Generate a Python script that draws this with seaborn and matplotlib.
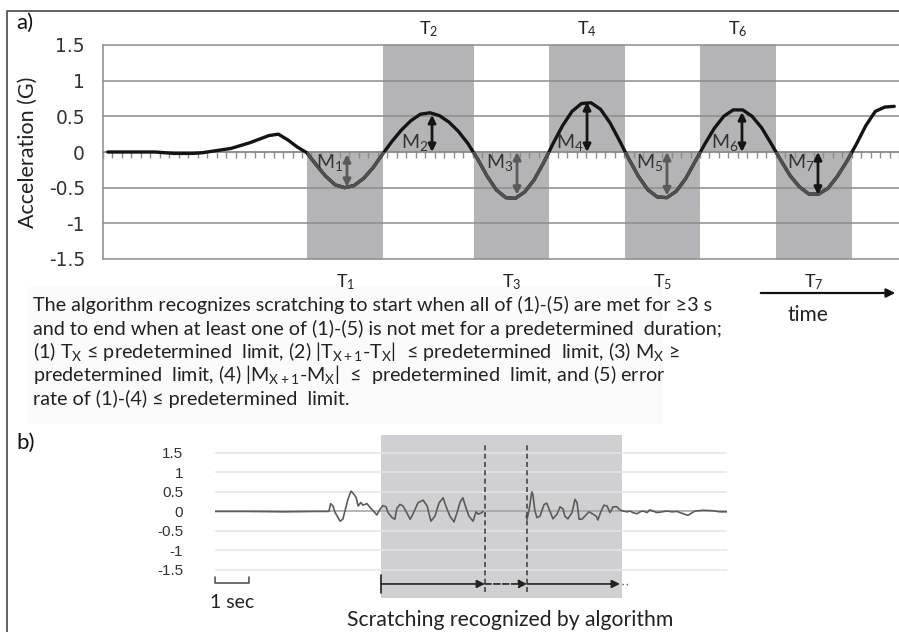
import numpy as np
import pandas as pd
import matplotlib
matplotlib.use("Agg")
import matplotlib.pyplot as plt
import seaborn as sns
from matplotlib.patches import Rectangle, FancyArrowPatch
from matplotlib.lines import Line2D
from matplotlib import font_manager

# ---------------- data: panel a ----------------
a_values = [0.00, 0.00, 0.00, 0.00, 0.00, 0.00, -0.01, -0.02, -0.02, -0.02,
            -0.01, 0.01, 0.03, 0.05, 0.09, 0.13, 0.18, 0.23, 0.25, 0.17,
            0.07, -0.01, -0.18, -0.34, -0.46, -0.50, -0.47, -0.37, -0.22, -0.03,
            0.15, 0.31, 0.44, 0.53, 0.55, 0.51, 0.42, 0.29, 0.12,
            -0.09, -0.33, -0.53, -0.64, -0.65, -0.56, -0.39, -0.15,
            0.12, 0.37, 0.57, 0.68, 0.69, 0.60, 0.41, 0.16,
            -0.10, -0.34, -0.53, -0.63, -0.64, -0.55, -0.37, -0.13,
            0.11, 0.33, 0.50, 0.59, 0.59, 0.50, 0.34, 0.12,
            -0.11, -0.33, -0.49, -0.59, -0.59, -0.51, -0.34, -0.13,
            0.11, 0.37, 0.57, 0.63, 0.64]
band_starts = [21.5, 29.6, 39.1, 47.1, 55.1, 63.0, 71.0]
band_ends = [29.6, 39.1, 47.1, 55.1, 63.0, 71.0, 79.0]
band_labels = ["T$_1$", "T$_2$", "T$_3$", "T$_4$", "T$_5$", "T$_6$", "T$_7$"]
m_x = [25.75, 34.72, 43.69, 51.08, 59.52, 67.43, 75.45]
m_peak = [-0.49, 0.52, -0.60, 0.70, -0.61, 0.56, -0.60]
m_labels = ["M$_1$", "M$_2$", "M$_3$", "M$_4$", "M$_5$", "M$_6$", "M$_7$"]
a_yticks = [-1.5, -1, -0.5, 0, 0.5, 1, 1.5]

# ---------------- data: panel b ----------------
b_time_1 = [0, 1, 2, 3, 3.35, 3.40, 3.47, 3.53, 3.68, 3.76, 3.91, 4.00, 4.06, 4.15,
            4.21, 4.29, 4.35, 4.47, 4.56, 4.65, 4.76, 4.85, 4.94, 5.03, 5.09, 5.21,
            5.29, 5.35, 5.44, 5.53, 5.65, 5.74, 5.82, 5.97, 6.12, 6.24, 6.35, 6.47,
            6.59, 6.71, 6.79, 6.91, 7.03, 7.12, 7.21, 7.29, 7.38, 7.47, 7.59, 7.68,
            7.74, 7.85, 7.88]
b_acc_1 = [0.00, 0.00, -0.01, 0.00, 0.00, 0.20, 0.14, -0.02, -0.25, -0.20, 0.31, 0.52, 0.47, 0.36,
           0.14, 0.23, 0.16, 0.20, 0.10, 0.02, -0.09, 0.05, 0.15, 0.12, -0.03, -0.16,
           -0.20, 0.08, 0.18, 0.14, -0.05, -0.20, -0.07, 0.22, 0.29, 0.14, -0.25, -0.12,
           0.22, 0.35, 0.14, -0.12, -0.27, -0.03, 0.24, 0.35, 0.10, -0.12, -0.25, -0.01,
           -0.07, -0.03, 0.00]
b_time_2 = [9.15, 9.18, 9.24, 9.32, 9.35, 9.41, 9.47, 9.56, 9.68, 9.76, 9.85, 9.94,
            10.06, 10.15, 10.24, 10.29, 10.38, 10.50, 10.59, 10.65, 10.71, 10.79, 10.88,
            11.00, 11.12, 11.21, 11.26, 11.35, 11.44, 11.53, 11.62, 11.71, 11.82, 11.91,
            12.00, 12.12, 12.21, 12.29, 12.41, 12.50, 12.59, 12.71, 12.79, 12.88, 13.00,
            13.15, 13.29, 13.44, 13.59, 13.68, 13.91, 14.12, 14.35, 14.62, 14.85, 15.06]
b_acc_2 = [-0.12, -0.20, 0.05, 0.50, 0.44, 0.01, -0.16, -0.12, 0.18, 0.21, 0.01, -0.19,
           -0.07, 0.12, 0.06, -0.12, -0.19, -0.03, 0.31, 0.22, -0.20, -0.20, -0.12,
           -0.01, -0.07, -0.12, -0.22, -0.01, 0.16, 0.14, -0.03, 0.12, 0.12, 0.04,
           0.01, -0.01, 0.01, -0.03, -0.06, -0.01, 0.01, -0.03, 0.04, 0.01, -0.03,
           -0.01, 0.01, -0.01, 0.00, -0.03, -0.10, 0.01, 0.03, 0.02, -0.01, -0.01]
b_shade = (4.88, 11.96)
b_dashed = [7.94, 9.18]
b_yticks = [-1.5, -1, -0.5, 0, 0.5, 1, 1.5]

paragraph = [
    "The algorithm recognizes scratching to start when all of (1)-(5) are met for \u22653 s",
    "and to end when at least one of (1)-(5) is not met for a predetermined  duration;",
    "(1) T$_{X}$ \u2264 predetermined  limit, (2) |T$_{X+1}$-T$_{X}$|  \u2264 predetermined  limit, (3) M$_{X}$ \u2265",
    "predetermined  limit, (4) |M$_{X+1}$-M$_{X}$|  \u2264  predetermined  limit, and (5) error",
    "rate of (1)-(4) \u2264 predetermined  limit.",
]

# ---------------- style ----------------
sns.set_theme(style="white")
names = {f.name for f in font_manager.fontManager.ttflist}
CAL = "Lato" if "Lato" in names else "DejaVu Sans"
plt.rcParams["font.family"] = [CAL, "DejaVu Sans"]
plt.rcParams["mathtext.fontset"] = "custom"
plt.rcParams["mathtext.rm"] = CAL
plt.rcParams["mathtext.it"] = CAL
plt.rcParams["mathtext.default"] = "regular"
plt.rcParams["axes.unicode_minus"] = False

W, H = 899, 632
fig = plt.figure(figsize=(W / 100, H / 100), dpi=100)


def fx(px):
    return px / W


def fy(py):
    return 1 - py / H


# outer border
fig.add_artist(Line2D([fx(7), fx(7), fx(899)], [fy(632), fy(11), fy(11)],
                      transform=fig.transFigure, color="#555555", lw=1.3))
fig.add_artist(Rectangle((fx(27), fy(423)), fx(635), 136 / H, transform=fig.transFigure,
                         color="#fbfbfb", zorder=0))

# ---------------- panel a ----------------
axa = fig.add_axes([fx(103), fy(259), fx(899 - 103), (259 - 45) / H])
axa.set_xlim(0, 84)
axa.set_ylim(-1.5, 1.5)
axa.set_facecolor("none")
axa.set_axisbelow(True)

for i, (s, e) in enumerate(zip(band_starts, band_ends)):
    lo, hi = (0.5, 1.0) if i % 2 == 1 else (0.0, 0.5)
    axa.axvspan(s, e, ymin=lo, ymax=hi, color="#b4b4b6", lw=0, zorder=0.3)

df_a = pd.DataFrame({"t": np.arange(len(a_values)) + 0.5, "acc": a_values})
sns.lineplot(data=df_a, x="t", y="acc", ax=axa, color="#141414", lw=2.4, zorder=3)
sns.lineplot(data=df_a, x="t", y="acc", ax=axa, color="#4f4f4f", lw=2.4, zorder=3.1)
gray_line = axa.lines[-1]
clip = Rectangle((band_starts[0], -1.6), band_ends[-1] - band_starts[0], 1.6,
                 transform=axa.transData)
gray_line.set_clip_path(clip)

axa.set_yticks(a_yticks)
axa.set_yticklabels([f"{v:g}" for v in a_yticks], fontsize=13.5, color="#333333",
                    family="DejaVu Sans")
axa.yaxis.grid(True, color="#8c8c8c", lw=1.1)
for gl in axa.get_ygridlines():
    gl.set_clip_on(False)
axa.set_xticks(np.arange(0, 85))
axa.tick_params(axis="x", bottom=True, direction="out", length=4, width=1,
                color="#8c8c8c", labelbottom=False)
axa.tick_params(axis="y", left=False, pad=7)
axa.spines["bottom"].set_position(("data", 0))
axa.spines["bottom"].set_color("#8c8c8c")
axa.spines["bottom"].set_linewidth(1.1)
axa.spines["left"].set_color("#8c8c8c")
axa.spines["left"].set_linewidth(1.1)
axa.spines["top"].set_visible(False)
axa.spines["right"].set_visible(False)
axa.set_xlabel("")
axa.set_ylabel("Acceleration (G)", fontsize=15.5, color="#222222")
axa.yaxis.set_label_coords(-(103 - 38) / (899 - 103), 0.5)

for i, (s, e, lab) in enumerate(zip(band_starts, band_ends, band_labels)):
    ypos = 1.72 if i % 2 == 1 else -1.83
    axa.text((s + e) / 2, ypos, lab, ha="center", va="center", fontsize=13,
             color="#222222", clip_on=False)

for i, (mx, mp, lab) in enumerate(zip(m_x, m_peak, m_labels)):
    col = "#5a5a5a" if i in (0, 2, 4) else "#151515"
    start = -0.03 if i == 0 else 0.0
    axa.annotate("", xy=(mx, mp), xytext=(mx, start),
                 arrowprops=dict(arrowstyle="<|-|>", color=col, lw=2.0,
                                 mutation_scale=11, shrinkA=0, shrinkB=0), zorder=4)
    ly = 0.14 if mp > 0 else -0.15
    axa.text(mx - 0.35, ly, lab, ha="right", va="center", fontsize=14,
             color="#333333", zorder=4)

fig.text(fx(16), fy(23), "a)", fontsize=16, va="center", ha="left", color="#111111")

# paragraph
baselines = [311, 334.5, 358, 381.5, 405]
for line, b in zip(paragraph, baselines):
    fig.text(fx(33), fy(b), line, fontsize=14.2, va="baseline", ha="left", color="#222222")

# time arrow
fig.add_artist(FancyArrowPatch((fx(758), fy(293)), (fx(898), fy(293)),
                               transform=fig.transFigure, arrowstyle="-|>",
                               mutation_scale=13, color="#111111", lw=1.6))
fig.text(fx(808), fy(315), "time", fontsize=15, ha="center", va="center", color="#222222")

# ---------------- panel b ----------------
axb = fig.add_axes([fx(215), fy(598), fx(512), 163 / H])
axb.set_xlim(0, 15.06)
axb.set_ylim(-2.22, 1.96)
axb.set_facecolor("none")
axb.axvspan(b_shade[0], b_shade[1], color="#d0d0d2", lw=0, zorder=0.2)
axb.set_yticks(b_yticks)
axb.set_yticklabels([f"{v:g}" for v in b_yticks], fontsize=11, color="#333333",
                    family="Liberation Sans")
axb.tick_params(axis="y", left=False, pad=17)
axb.tick_params(axis="x", bottom=False, labelbottom=False)
axb.set_xticks([])
for v in b_yticks:
    axb.axhline(v, color="#e6e6e6" if v != 0 else "#a0a0a0", lw=1.1, zorder=0.5)
for sp in axb.spines.values():
    sp.set_visible(False)

df_b = pd.DataFrame({
    "t": b_time_1 + b_time_2,
    "acc": b_acc_1 + b_acc_2,
    "seg": [1] * len(b_time_1) + [2] * len(b_time_2),
})
sns.lineplot(data=df_b, x="t", y="acc", units="seg", estimator=None, ax=axb,
             color="#5c5c5c", lw=1.2, zorder=3)
axb.set_xlabel("")
axb.set_ylabel("")

for xd in b_dashed:
    axb.axvline(xd, ymin=6 / 163, ymax=156 / 163, color="#444444", lw=1.2,
                dashes=(3, 2), zorder=4)

ya = -1.86
axb.plot([b_shade[0], b_shade[0]], [-1.64, -2.09], color="#222222", lw=1.2, zorder=5)
axb.annotate("", xy=(b_dashed[0], ya), xytext=(b_shade[0], ya),
             arrowprops=dict(arrowstyle="-|>", color="#222222", lw=1.2,
                             mutation_scale=12, shrinkA=0, shrinkB=0), zorder=5)
axb.annotate("", xy=(b_dashed[1], ya), xytext=(b_dashed[0], ya),
             arrowprops=dict(arrowstyle="-|>", color="#222222", lw=1.2, ls="--",
                             mutation_scale=12, shrinkA=0, shrinkB=0), zorder=5)
axb.annotate("", xy=(b_shade[1] - 0.05, ya), xytext=(b_dashed[1], ya),
             arrowprops=dict(arrowstyle="-|>", color="#222222", lw=1.2,
                             mutation_scale=12, shrinkA=0, shrinkB=0), zorder=5)
axb.plot([b_shade[1], b_shade[1] + 0.22], [ya, ya], color="#555555", lw=1.0,
         dashes=(1, 2), clip_on=False, zorder=5)

# 1 sec scale bar
axb.plot([0, 0, 1, 1], [-1.67, -1.83, -1.83, -1.67], color="#555555", lw=1.2,
         clip_on=False)
fig.text(fx(232), fy(603), "1 sec", fontsize=14, ha="center", va="center", color="#222222")
fig.text(fx(510), fy(620), "Scratching recognized by algorithm", fontsize=15.2,
         ha="center", va="center", color="#222222")
fig.text(fx(16), fy(443), "b)", fontsize=16, va="center", ha="left", color="#111111")

fig.savefig("out.png", dpi=100)
